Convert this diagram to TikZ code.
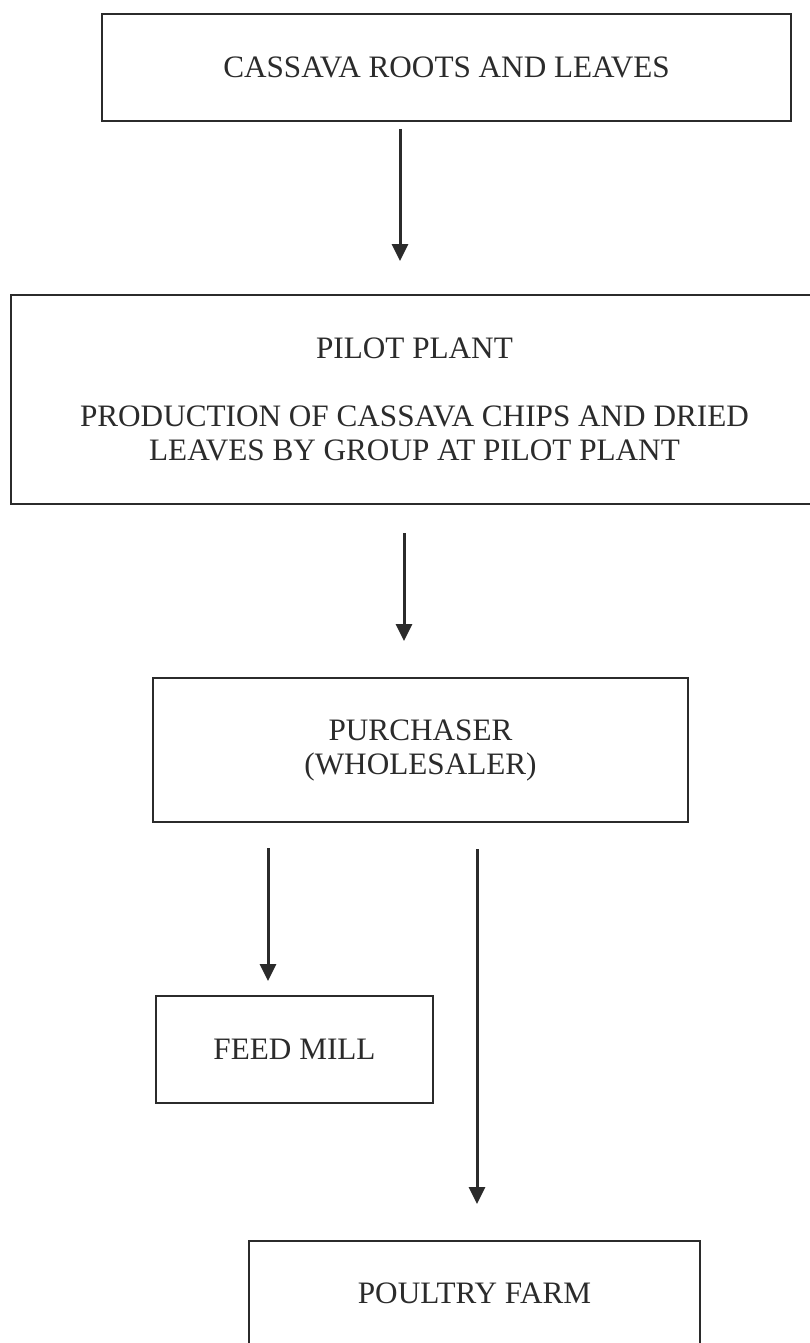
\documentclass[tikz,border=0pt]{standalone}
\usepackage{fontspec}
\setmainfont{Liberation Serif}
\usepackage{tikz}
\usetikzlibrary{arrows.meta}
\definecolor{ink}{HTML}{2b2b2b}

\begin{document}
\begin{tikzpicture}[x=1pt, y=-1pt,
  every node/.style={font=\fontsize{31.2}{34}\selectfont, align=center, text=ink},
  box/.style={draw=ink, line width=2pt, inner sep=0pt},
  flow/.style={draw=ink, line width=3pt, -{Triangle[length=17pt, width=16pt]}}]
\path[fill=white, use as bounding box] (0,0) rectangle (810,1343);
\node[box, minimum width=689pt, minimum height=107pt] (roots) at (446.5, 67.5)
  {CASSAVA ROOTS AND LEAVES};
\node[box, minimum width=807pt, minimum height=209pt] (plant) at (414.5, 399.5)
  {PILOT PLANT \\[34pt] PRODUCTION OF CASSAVA CHIPS AND DRIED \\ LEAVES BY GROUP AT PILOT PLANT};
\node[box, minimum width=535pt, minimum height=144pt] (buyer) at (420.5, 750)
  {PURCHASER \\ (WHOLESALER)};
\node[box, minimum width=277pt, minimum height=107pt] (mill) at (294.5, 1049.5)
  {FEED MILL};
\node[box, minimum width=451pt, minimum height=104pt] (farm) at (474.5, 1293)
  {POULTRY FARM};
\draw[flow, shorten <=7pt, shorten >=33pt] (roots.south -| 400,0) -- (plant.north -| 400,0);
\draw[flow, shorten <=28pt, shorten >=36pt] (plant.south -| 404,0) -- (buyer.north -| 404,0);
\draw[flow, shorten <=25pt, shorten >=14pt] (buyer.south -| 268,0) -- (mill.north -| 268,0);
\draw[flow, shorten <=26pt, shorten >=36pt] (buyer.south -| 477,0) -- (farm.north -| 477,0);
\end{tikzpicture}
\end{document}
